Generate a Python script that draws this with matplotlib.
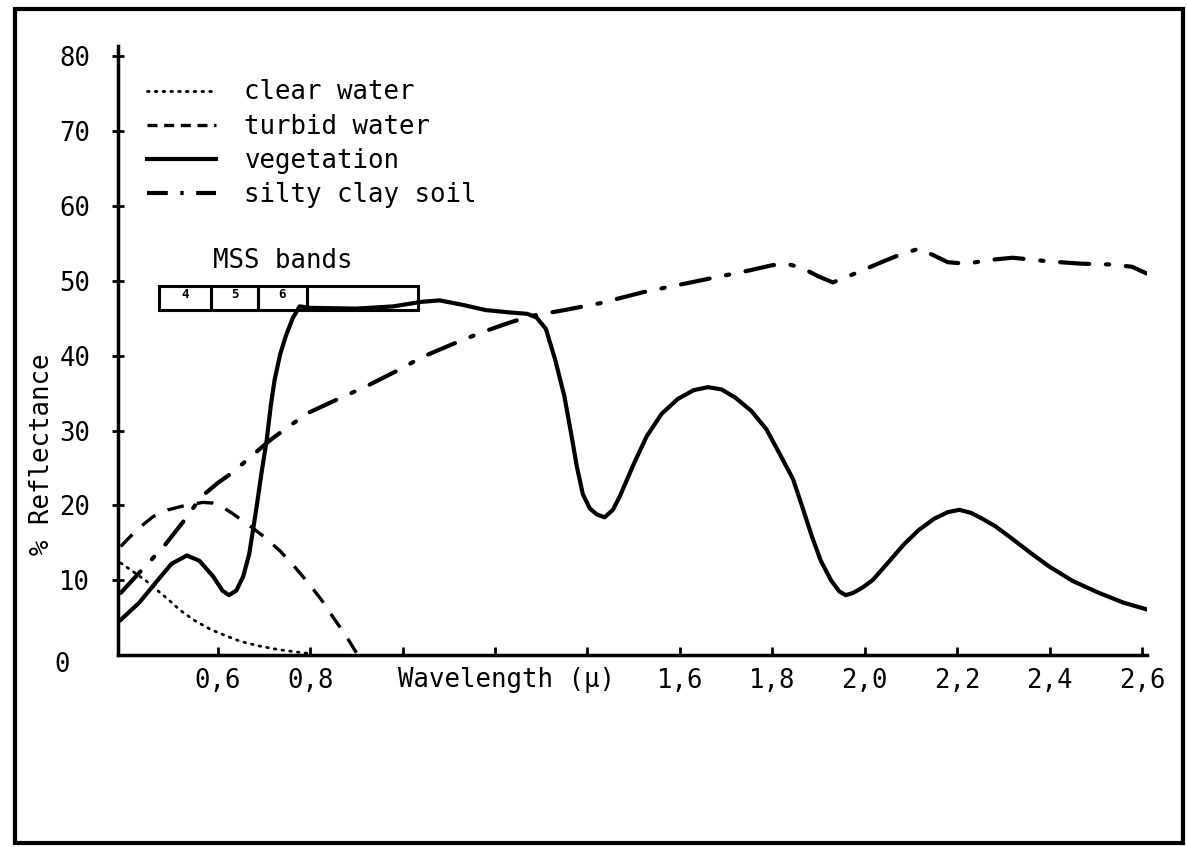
import matplotlib.pyplot as plt
from matplotlib.patches import Rectangle
from matplotlib.lines import Line2D

# values (wavelength in micron, reflectance in %)
veg_wl = [0.39, 0.43, 0.47, 0.50, 0.533, 0.56, 0.59, 0.61, 0.624, 0.64, 0.655, 0.668,
          0.682, 0.695, 0.706, 0.715, 0.723, 0.735, 0.747, 0.762, 0.777, 0.80, 0.90,
          0.98, 1.04, 1.08, 1.13, 1.18, 1.23, 1.27, 1.29, 1.31, 1.33, 1.35, 1.365,
          1.377, 1.39, 1.405, 1.42, 1.437, 1.455, 1.47, 1.50, 1.528, 1.56, 1.595,
          1.63, 1.661, 1.69, 1.72, 1.755, 1.787, 1.815, 1.845, 1.865, 1.886, 1.905,
          1.927, 1.945, 1.959, 1.975, 1.995, 2.017, 2.05, 2.085, 2.117, 2.15, 2.18,
          2.205, 2.23, 2.255, 2.283, 2.32, 2.36, 2.40, 2.45, 2.507, 2.56, 2.61]
veg_r = [4.7, 7.0, 10.0, 12.2, 13.3, 12.6, 10.5, 8.6, 8.0, 8.6, 10.5, 13.5,
         19.0, 24.5, 28.8, 33.5, 36.8, 40.2, 42.6, 45.0, 46.6, 46.4, 46.3,
         46.6, 47.2, 47.4, 46.8, 46.1, 45.8, 45.6, 45.1, 43.6, 39.5, 34.6, 29.5,
         25.2, 21.5, 19.6, 18.8, 18.4, 19.4, 21.2, 25.5, 29.2, 32.2, 34.2,
         35.4, 35.8, 35.5, 34.4, 32.6, 30.2, 27.0, 23.5, 19.8, 15.8, 12.6,
         10.0, 8.5, 8.0, 8.3, 9.0, 10.0, 12.3, 14.8, 16.7, 18.2, 19.1,
         19.4, 19.0, 18.2, 17.2, 15.5, 13.6, 11.8, 9.9, 8.3, 7.0, 6.1]

soil_wl = [0.39, 0.43, 0.483, 0.525, 0.565, 0.60, 0.632, 0.675, 0.715, 0.757, 0.797,
           0.86, 0.921, 0.985, 1.045, 1.11, 1.17, 1.23, 1.277, 1.35, 1.426, 1.521,
           1.60, 1.679, 1.75, 1.80, 1.828, 1.85, 1.869, 1.90, 1.931, 1.96, 2.002,
           2.04, 2.08, 2.117, 2.15, 2.18, 2.22, 2.27, 2.32, 2.40, 2.47, 2.53, 2.578, 2.61]
soil_r = [8.3, 11.0, 14.5, 17.8, 21.2, 23.0, 24.4, 26.7, 28.8, 30.7, 32.4,
          34.2, 35.9, 37.9, 39.9, 41.6, 43.1, 44.4, 45.3, 46.1, 47.0, 48.5,
          49.5, 50.5, 51.4, 52.1, 52.3, 52.0, 51.6, 50.6, 49.8, 50.5, 51.6,
          52.6, 53.6, 54.3, 53.4, 52.5, 52.3, 52.8, 53.1, 52.6, 52.3, 52.2, 51.9, 51.0]

turbid_wl = [0.39, 0.41, 0.434, 0.46, 0.492, 0.53, 0.568, 0.59, 0.609, 0.63, 0.65,
             0.675, 0.70, 0.735, 0.766, 0.795, 0.824, 0.85, 0.875, 0.90]
turbid_r = [14.5, 15.8, 17.2, 18.5, 19.4, 20.0, 20.4, 20.3, 19.8, 19.0, 18.1,
            17.0, 15.8, 13.9, 11.8, 9.7, 7.4, 5.0, 2.8, 0.3]

clear_wl = [0.39, 0.42, 0.445, 0.468, 0.495, 0.518, 0.55, 0.585, 0.62, 0.65, 0.69,
            0.733, 0.783, 0.80]
clear_r = [12.3, 11.0, 9.9, 8.7, 7.3, 6.0, 4.6, 3.4, 2.5, 1.8, 1.2, 0.7, 0.3, 0.2]

# MSS band box edges
mss_edges = [0.473, 0.585, 0.688, 0.792, 1.034]
mss_labels = ['4', '5', '6', '']
mss_lo, mss_hi = 46.1, 49.3

xticks = [0.6, 0.8, 1.0, 1.2, 1.4, 1.6, 1.8, 2.0, 2.2, 2.4, 2.6]
xlabels = ['0,6', '0,8', '', '', '', '1,6', '1,8', '2,0', '2,2', '2,4', '2,6']
yticks = [10, 20, 30, 40, 50, 60, 70, 80]

mono = 'DejaVu Sans Mono'
fs = 18.5

fig = plt.figure(figsize=(11.87, 8.47), dpi=100)
W, H = 1187, 847
ax = fig.add_axes([118 / W, 1 - 655 / H, (1147 - 118) / W, (655 - 46) / H])

ax.plot(clear_wl, clear_r, color='black', lw=2.0, ls=(0, (0.6, 2.2)),
        dash_capstyle='round', label='clear water')
ax.plot(turbid_wl, turbid_r, color='black', lw=2.4, ls=(0, (5, 4)), label='turbid water')
ax.plot(veg_wl, veg_r, color='black', lw=3.0, solid_joinstyle='round', label='vegetation')
ax.plot(soil_wl, soil_r, color='black', lw=3.0, ls=(0, (7, 4, 0.8, 4)),
        dash_capstyle='round', label='silty clay soil')

# MSS bands box
for i in range(len(mss_edges) - 1):
    ax.add_patch(Rectangle((mss_edges[i], mss_lo), mss_edges[i + 1] - mss_edges[i],
                           mss_hi - mss_lo, fill=False, lw=2.2, ec='black'))
    if mss_labels[i]:
        ax.text((mss_edges[i] + mss_edges[i + 1]) / 2, mss_hi - 0.2, mss_labels[i],
                fontsize=9, family=mono, fontweight='bold', ha='center', va='top')
ax.text(0.74, 52.6, 'MSS bands', fontsize=fs, family=mono, ha='center', va='center')

ax.set_xlim(0.384, 2.611)
ax.set_ylim(0, 81.4)
ax.set_xticks(xticks)
ax.set_xticklabels(xlabels, family=mono, fontsize=fs)
ax.set_yticks(yticks)
ax.set_yticklabels([str(v) for v in yticks], family=mono, fontsize=fs)
ax.tick_params(axis='x', direction='in', length=6, width=2, pad=9)
ax.tick_params(axis='y', direction='inout', length=8, width=2, pad=16)
for s in ['top', 'right']:
    ax.spines[s].set_visible(False)
for s in ['left', 'bottom']:
    ax.spines[s].set_linewidth(2.5)

ax.text(-0.054, -0.016, '0', transform=ax.transAxes, family=mono, fontsize=fs,
        ha='center', va='center')
ax.set_xlabel('Wavelength (\u00b5)', family=mono, fontsize=fs)
ax.xaxis.set_label_coords(0.378, -0.02)
ax.xaxis.label.set_va('top')
ax.set_ylabel('% Reflectance', family=mono, fontsize=fs)
ax.yaxis.set_label_coords(-0.074, 0.33)
ax.yaxis.label.set_va('center')

handles = [Line2D([], [], color='black', lw=2.0, ls=(0, (0.6, 2.2)), dash_capstyle='round'),
           Line2D([], [], color='black', lw=2.4, ls=(0, (3, 2))),
           Line2D([], [], color='black', lw=3.0),
           Line2D([], [], color='black', lw=3.0, ls=(0, (5, 3, 0.8, 3)))]
ax.legend(handles, ['clear water', 'turbid water', 'vegetation', 'silty clay soil'],
          loc='upper left', bbox_to_anchor=(0.028, 0.945), frameon=False,
          prop={'family': mono, 'size': fs}, handlelength=2.7, handletextpad=1.1,
          labelspacing=0.32, borderpad=0, borderaxespad=0)

fig.patches.append(Rectangle((15 / W, 1 - 843 / H), (1183 - 15) / W, (843 - 9) / H,
                             transform=fig.transFigure, fill=False, lw=3, ec='black'))

fig.savefig('out.png', dpi=100)
